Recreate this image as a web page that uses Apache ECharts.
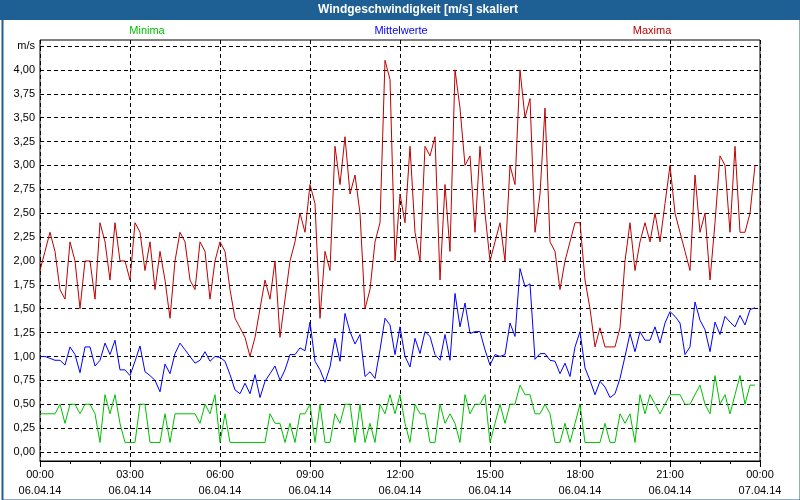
<!DOCTYPE html>
<html>
<head>
<meta charset="utf-8">
<script src="https://cdn.jsdelivr.net/npm/echarts@6/dist/echarts.min.js"></script>
<style>
  html, body { margin: 0; padding: 0; background: #fff; }
  .box { width: 800px; height: 500px; }
</style>
</head>
<body>
<div class="box"></div>
<script>
const chartDom = document.getElementsByClassName('box')[0];
const myChart = echarts.init(chartDom, null, { renderer: 'canvas' });

const titleText = 'Windgeschwindigkeit [m/s] skaliert';
const seriesNames = ['Minima', 'Mittelwerte', 'Maxima'];
const stepMinutes = 10; // one value every 10 minutes, 06.04.14 00:00 .. 23:50

const minima = [
  0.4, 0.4, 0.4, 0.4, 0.5, 0.3, 0.5, 0.5, 0.4, 0.5, 0.5, 0.4, 0.1, 0.6, 0.4, 0.6, 0.3, 0.1, 0.1, 0.1, 0.5, 0.5, 0.1, 0.1,
  0.1, 0.4, 0.1, 0.4, 0.4, 0.4, 0.4, 0.4, 0.3, 0.5, 0.4, 0.6, 0.1, 0.4, 0.1, 0.1, 0.1, 0.1, 0.1, 0.1, 0.1, 0.1, 0.4, 0.3,
  0.3, 0.1, 0.3, 0.1, 0.4, 0.4, 0.5, 0.1, 0.5, 0.1, 0.1, 0.4, 0.3, 0.5, 0.5, 0.1, 0.5, 0.1, 0.3, 0.1, 0.5, 0.4, 0.6, 0.4,
  0.6, 0.3, 0.1, 0.5, 0.4, 0.4, 0.1, 0.1, 0.5, 0.3, 0.4, 0.3, 0.1, 0.6, 0.4, 0.5, 0.5, 0.6, 0.1, 0.3, 0.5, 0.3, 0.5, 0.5,
  0.7, 0.6, 0.6, 0.4, 0.4, 0.5, 0.4, 0.1, 0.1, 0.3, 0.1, 0.3, 0.5, 0.1, 0.1, 0.1, 0.1, 0.3, 0.1, 0.1, 0.4, 0.3, 0.4, 0.1,
  0.6, 0.4, 0.6, 0.5, 0.4, 0.5, 0.6, 0.6, 0.6, 0.5, 0.5, 0.6, 0.7, 0.5, 0.4, 0.8, 0.5, 0.6, 0.4, 0.6, 0.8, 0.5, 0.7, 0.7
];

const mittelwerte = [
  1.00, 1.00, 0.98, 0.96, 0.96, 0.91, 1.10, 1.02, 0.83, 1.10, 1.10, 0.90, 0.96, 1.14, 1.02, 1.17, 0.86, 0.86, 0.80, 0.95, 1.11, 0.84, 0.80, 0.75,
  0.63, 0.92, 0.82, 1.03, 1.14, 1.07, 1.00, 0.93, 0.96, 1.05, 0.95, 1.00, 0.99, 0.95, 0.81, 0.65, 0.61, 0.72, 0.61, 0.81, 0.57, 0.74, 0.82, 0.90,
  0.75, 0.86, 1.02, 1.02, 1.09, 1.06, 1.36, 0.95, 0.86, 0.73, 0.89, 1.19, 0.95, 1.45, 1.26, 1.13, 1.23, 0.79, 0.84, 0.77, 1.07, 1.40, 1.33, 1.02,
  1.31, 1.00, 0.89, 1.19, 1.03, 1.26, 1.21, 1.02, 0.96, 1.23, 0.96, 1.66, 1.31, 1.56, 1.24, 1.26, 1.26, 1.07, 0.91, 1.02, 1.00, 1.02, 1.35, 1.21,
  1.92, 1.73, 1.76, 0.97, 1.03, 1.03, 0.96, 0.95, 0.82, 0.93, 0.79, 1.10, 1.26, 0.88, 0.75, 0.60, 0.74, 0.68, 0.57, 0.61, 0.77, 1.00, 1.24, 1.05,
  1.26, 1.17, 1.17, 1.31, 1.14, 1.35, 1.47, 1.42, 1.35, 1.02, 1.10, 1.57, 1.38, 1.28, 1.05, 1.36, 1.23, 1.42, 1.36, 1.31, 1.43, 1.33, 1.49, 1.51
];

const maxima = [
  1.9, 2.1, 2.3, 2.1, 1.7, 1.6, 2.2, 2.0, 1.5, 2.0, 2.0, 1.6, 2.4, 2.2, 1.8, 2.4, 2.0, 2.0, 1.8, 2.4, 2.3, 1.9, 2.2, 1.7,
  2.1, 1.8, 1.4, 2.0, 2.3, 2.2, 1.8, 1.7, 2.2, 2.1, 1.6, 2.0, 2.2, 2.1, 1.7, 1.4, 1.3, 1.2, 1.0, 1.2, 1.5, 1.8, 1.6, 2.0,
  1.2, 1.6, 2.0, 2.2, 2.5, 2.3, 2.8, 2.6, 1.4, 2.1, 1.9, 3.2, 2.8, 3.3, 2.7, 2.9, 2.5, 1.5, 1.7, 2.2, 2.4, 4.1, 3.9, 2.0,
  2.7, 2.4, 3.2, 2.3, 2.0, 3.2, 3.1, 3.3, 1.8, 2.8, 2.1, 4.0, 3.6, 3.0, 3.1, 2.3, 3.2, 2.5, 2.0, 2.2, 2.4, 2.0, 3.0, 2.8,
  4.0, 3.5, 3.7, 2.3, 2.7, 3.6, 2.2, 2.1, 1.7, 2.0, 2.2, 2.4, 2.4, 1.8, 1.5, 1.1, 1.3, 1.1, 1.1, 1.1, 1.3, 2.0, 2.4, 1.9,
  2.2, 2.4, 2.2, 2.5, 2.2, 2.6, 3.0, 2.5, 2.3, 2.1, 1.9, 2.9, 2.3, 2.5, 1.8, 2.4, 3.1, 3.0, 2.3, 3.2, 2.3, 2.3, 2.5, 3.0
];

const seriesColors = ['#00c000', '#0000ff', '#c00000'];
const frameColor = '#1e5f94';
const font = 'Liberation Sans, Arial, sans-serif';

function toPoints(values) {
  return values.map((v, i) => [i * stepMinutes, v]);
}

function pad(n) { return n < 10 ? '0' + n : '' + n; }

option = {
  backgroundColor: '#fff',
  animation: false,
  graphic: [
    // title bar and frame
    { type: 'rect', left: 0, top: 0, shape: { width: 800, height: 20 }, style: { fill: frameColor }, z: 0 },
    { type: 'rect', left: 0, top: 0, shape: { x: 1, y: 1, width: 798, height: 498 }, style: { fill: null, stroke: frameColor, lineWidth: 2 }, z: 0 },
    { type: 'text', x: 418, y: 10, style: { text: titleText, fill: '#fff', font: 'bold 12px ' + font, textAlign: 'center', textVerticalAlign: 'middle' } },
    // series labels above the plot
    { type: 'text', x: 147, y: 31, style: { text: seriesNames[0], fill: seriesColors[0], font: '11px ' + font, textAlign: 'center', textVerticalAlign: 'middle' } },
    { type: 'text', x: 401, y: 31, style: { text: seriesNames[1], fill: seriesColors[1], font: '11px ' + font, textAlign: 'center', textVerticalAlign: 'middle' } },
    { type: 'text', x: 652, y: 31, style: { text: seriesNames[2], fill: seriesColors[2], font: '11px ' + font, textAlign: 'center', textVerticalAlign: 'middle' } }
  ],
  grid: [
    // data area: 0,00 .. 4,25
    { left: 40, right: 40, top: 46, bottom: 48 },
    // outer plot box
    { left: 40, right: 40, top: 40, bottom: 39, show: true, borderColor: '#000', borderWidth: 1, backgroundColor: 'transparent' }
  ],
  xAxis: [
    { gridIndex: 0, type: 'value', min: 0, max: 1440, show: false },
    {
      gridIndex: 1, type: 'value', min: 0, max: 1440, interval: 180,
      axisLine: { show: true, lineStyle: { color: '#000', width: 1 } },
      axisTick: { show: true, length: 6, lineStyle: { color: '#000' } },
      minorTick: { show: true, splitNumber: 3, length: 3, lineStyle: { color: '#000' } },
      splitLine: { show: true, lineStyle: { color: '#000', type: [4, 3], width: 1 } },
      axisLabel: {
        margin: 6, color: '#000', fontFamily: font, fontSize: 11, lineHeight: 16,
        formatter: function (v) {
          const h = Math.floor(v / 60) % 24;
          const day = v >= 1440 ? '07.04.14' : '06.04.14';
          return pad(h) + ':00\n' + day;
        }
      }
    }
  ],
  yAxis: [
    {
      gridIndex: 0, type: 'value', min: 0, max: 4.25, interval: 0.25,
      axisLine: { show: false },
      axisTick: { show: false },
      splitLine: { show: true, lineStyle: { color: '#000', type: [4, 3], width: 1 } },
      axisLabel: {
        margin: 5, color: '#000', fontFamily: font, fontSize: 11,
        formatter: function (v) {
          if (Math.abs(v - 4.25) < 1e-6) return 'm/s';
          return v.toFixed(2).replace('.', ',');
        }
      }
    },
    {
      gridIndex: 1, type: 'value', min: 0, max: 1,
      axisLine: { show: false }, axisTick: { show: false },
      axisLabel: { show: false }, splitLine: { show: false }
    }
  ],
  series: [
    { name: seriesNames[0], type: 'line', data: toPoints(minima), color: seriesColors[0] },
    { name: seriesNames[1], type: 'line', data: toPoints(mittelwerte), color: seriesColors[1] },
    { name: seriesNames[2], type: 'line', data: toPoints(maxima), color: seriesColors[2] }
  ].map(s => Object.assign(s, {
    xAxisIndex: 0, yAxisIndex: 0, showSymbol: false, symbol: 'none',
    lineStyle: { width: 1, color: s.color }, z: 3
  }))
};

myChart.setOption(option);
</script>
</body>
</html>
